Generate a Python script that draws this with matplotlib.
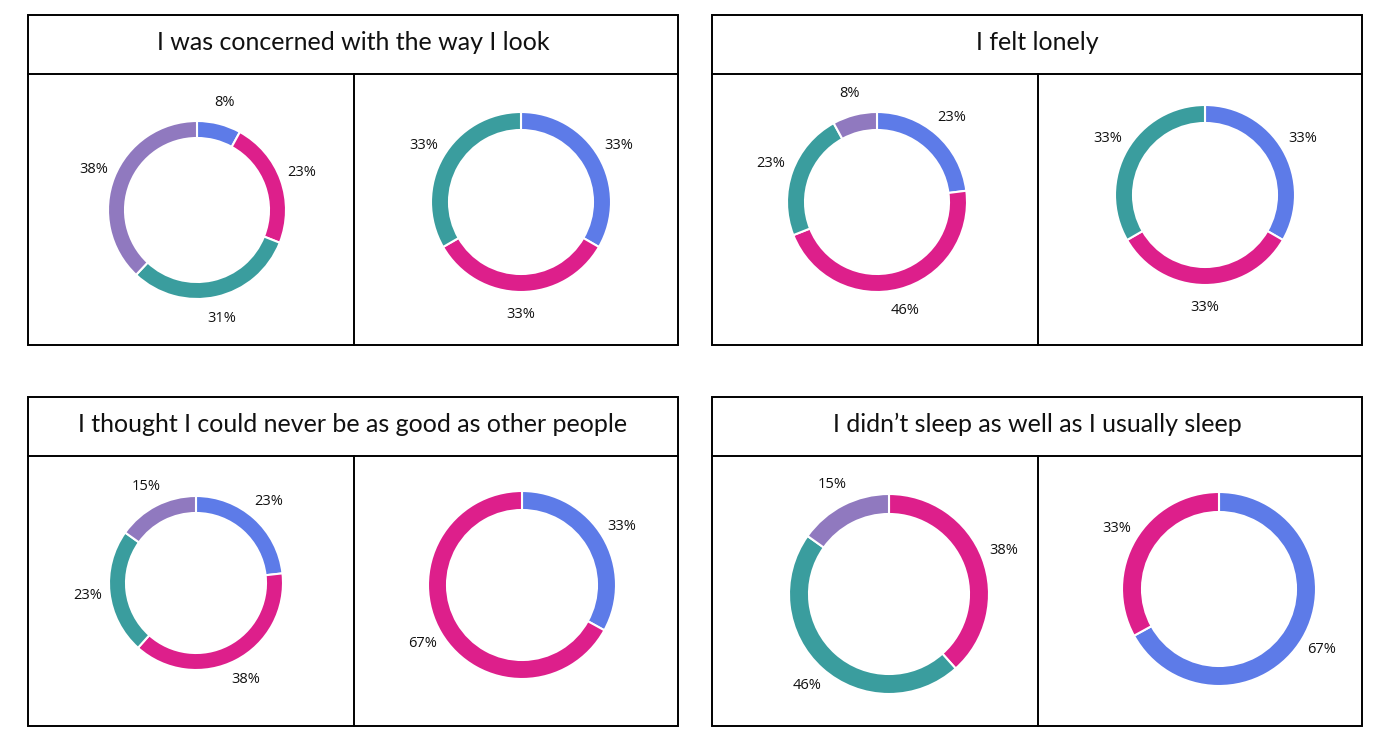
import matplotlib
matplotlib.use("Agg")
import matplotlib.pyplot as plt
from matplotlib.patches import Rectangle

# ---- data ----
titles = [
    "I was concerned with the way I look",
    "I felt lonely",
    "I thought I could never be as good as other people",
    "I didn\u2019t sleep as well as I usually sleep",
]
# each donut: values (clockwise from 12 o'clock) and color keys
donut_values = [
    [8, 23, 31, 38],
    [33, 33, 33],
    [23, 46, 23, 8],
    [33, 33, 33],
    [23, 38, 23, 15],
    [33, 67],
    [38, 46, 15],
    [67, 33],
]
donut_colors = [
    ["blue", "pink", "teal", "purple"],
    ["blue", "pink", "teal"],
    ["blue", "pink", "teal", "purple"],
    ["blue", "pink", "teal"],
    ["blue", "pink", "teal", "purple"],
    ["blue", "pink"],
    ["pink", "teal", "purple"],
    ["blue", "pink"],
]

palette = {"blue": "#5D7BE8", "pink": "#DD1F8B", "teal": "#3A9D9E", "purple": "#9079BF"}

W, H = 1377, 742
fig = plt.figure(figsize=(W / 100, H / 100), dpi=100)
ax = fig.add_axes([0, 0, 1, 1])

# layout (pixel coords, y from top)
panels = [  # x0, x1, y0, ysep, y1, xdiv
    (28, 678, 15, 74, 345, 354),
    (712, 1362, 15, 74, 345, 1038),
    (28, 678, 397, 456, 726, 354),
    (712, 1362, 397, 456, 726, 1038),
]
donut_geom = [  # cx, cy, radius, ring width, label distance
    (197, 210, 89, 17, 1.25),
    (521, 202, 90, 18, 1.25),
    (877, 202, 90, 18, 1.25),
    (1205, 195, 90, 18, 1.25),
    (196, 583, 87, 17, 1.25),
    (522, 585, 94, 19, 1.23),
    (889, 594, 100, 20, 1.23),
    (1219, 589, 97, 20, 1.23),
]

def fy(y):
    return H - y

lw = 1.4
for (x0, x1, y0, ysep, y1, xdiv), title in zip(panels, titles):
    ax.add_patch(Rectangle((x0, fy(y1)), x1 - x0, y1 - y0, fill=False,
                           edgecolor="black", linewidth=lw))
    ax.plot([x0, x1], [fy(ysep), fy(ysep)], color="black", linewidth=lw)
    ax.plot([xdiv, xdiv], [fy(ysep), fy(y1)], color="black", linewidth=lw)
    ax.text((x0 + x1) / 2, fy((y0 + ysep) / 2 - 2), title, ha="center", va="center",
            fontsize=18, family="Lato", color="#111111")

for vals, cols, (cx, cy, r, w, ld) in zip(donut_values, donut_colors, donut_geom):
    wedges, texts = ax.pie(
        vals,
        colors=[palette[c] for c in cols],
        labels=[f"{v}%" for v in vals],
        labeldistance=ld,
        startangle=90,
        counterclock=False,
        center=(cx, fy(cy)),
        radius=r,
        wedgeprops=dict(width=w, edgecolor="white", linewidth=1.5),
        textprops=dict(fontsize=10.5, family="Open Sans", color="#111111"),
    )
    for t in texts:
        t.set_ha("center")
        t.set_va("center")

ax.set_xlim(0, W)
ax.set_ylim(0, H)
ax.set_aspect("auto")
ax.axis("off")

fig.savefig("out.png", dpi=100, facecolor="white")
